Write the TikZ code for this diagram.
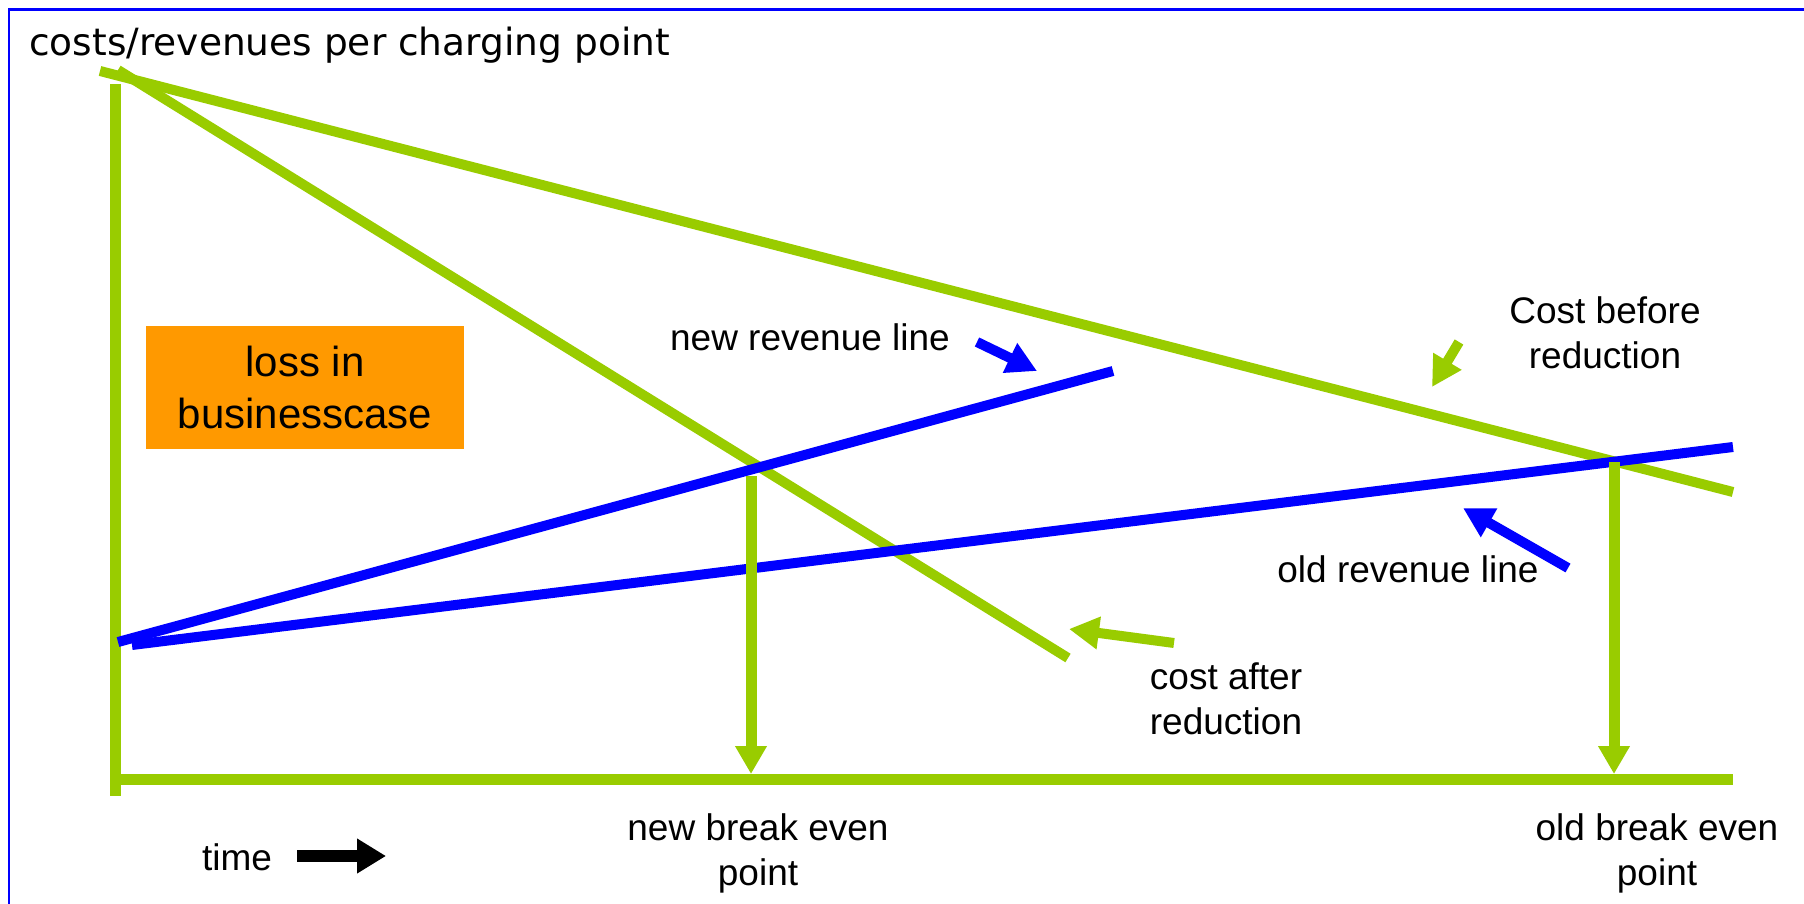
\documentclass[tikz,border=0pt]{standalone}
\usepackage{fontspec}
\setmainfont{Liberation Sans}
\newfontfamily\titlefont{DejaVu Sans}
\usetikzlibrary{arrows.meta}
\definecolor{lgreen}{HTML}{99CC00}
\definecolor{orng}{HTML}{FF9900}
\definecolor{bblue}{HTML}{0000FF}
\begin{document}
\begin{tikzpicture}[x=1pt,y=-1pt,
  gline/.style={lgreen,line width=10pt},
  axisline/.style={lgreen,line width=11pt},
  bline/.style={bblue,line width=10pt},
  lbl/.style={inner sep=0pt,align=center,font=\fontsize{37}{45}\selectfont},
  garrow/.style={lgreen,line width=10pt,-{Triangle[length=30pt,width=31pt]}},
  barrow/.style={bblue,line width=10pt,-{Triangle[length=30pt,width=31pt]}},
  varrow/.style={lgreen,line width=11pt,-{Triangle[length=28pt,width=30pt]}},
  karrow/.style={black,line width=12pt,-{Triangle[length=29pt,width=33pt]}}
]
\useasboundingbox (0,0) rectangle (1804,904);
\fill[white] (0,0) rectangle (1804,904);
% frame (top and left edges visible)
\draw[bblue,line width=2.5pt] (9,910) -- (9,9.5) -- (1810,9.5);

% title
\node[inner sep=0pt,anchor=base west,font=\titlefont\fontsize{37.5}{44}\selectfont] (title) at (29,56) {costs/revenues per charging point};

% coordinates
\coordinate (ytop) at (115,84);
\coordinate (ybot) at (115,796);
\coordinate (xl) at (110,779.5);
\coordinate (xr) at (1733,779.5);
\coordinate (cb1) at (100,71);
\coordinate (cb2) at (1733,492);
\coordinate (ca1) at (118,70);
\coordinate (ca2) at (1068,658);
\coordinate (or1) at (132,645);
\coordinate (or2) at (1733,447);
\coordinate (nr1) at (118,642);
\coordinate (nr2) at (1113,371);
\coordinate (nb1) at (751,476);
\coordinate (nb2) at (751,774);
\coordinate (ob1) at (1614,462);
\coordinate (ob2) at (1614,774);

% orange box
\node[fill=orng,minimum width=318pt,minimum height=123pt,inner sep=0pt,align=center,
  font=\fontsize{42}{52}\selectfont] (loss) at (305,387.5) {loss in\\businesscase};

% axes
\draw[axisline] (ytop) -- (ybot);
\draw[axisline] (xl) -- (xr);

% lines
\draw[gline] (cb1) -- (cb2);
\draw[gline] (ca1) -- (ca2);
\draw[bline] (nr1) -- (nr2);
\draw[bline] (or1) -- (or2);

% break even arrows
\draw[varrow] (nb1) -- (nb2);
\draw[varrow] (ob1) -- (ob2);

% labels
\node[lbl,anchor=base] (nrl) at (810,350) {new revenue line};
\node[lbl,anchor=north] (cbr) at (1605,296) {Cost before\\reduction};
\node[lbl,anchor=base] (orl) at (1408,582) {old revenue line};
\node[lbl,anchor=north] (car) at (1226,663) {cost after\\reduction};
\node[lbl,anchor=north] (nbe) at (758,813) {new break even\\point};
\node[lbl,anchor=north] (obe) at (1657,813) {old break even\\point};
\node[lbl,anchor=base] (time) at (237,870) {time};

% pointer arrows
\coordinate (a1s) at (977,342);
\coordinate (a1e) at (1037,371);
\coordinate (a2s) at (1459,342);
\coordinate (a2e) at (1432,387);
\coordinate (a3s) at (1568,568);
\coordinate (a3e) at (1463,508);
\coordinate (a4s) at (1174,643);
\coordinate (a4e) at (1069,629);
\coordinate (ts) at (297,856);
\coordinate (te) at (386,856);
\draw[barrow] (a1s) -- (a1e);
\draw[garrow] (a2s) -- (a2e);
\draw[barrow] (a3s) -- (a3e);
\draw[garrow] (a4s) -- (a4e);
\draw[karrow] (ts) -- (te);
\end{tikzpicture}
\end{document}
